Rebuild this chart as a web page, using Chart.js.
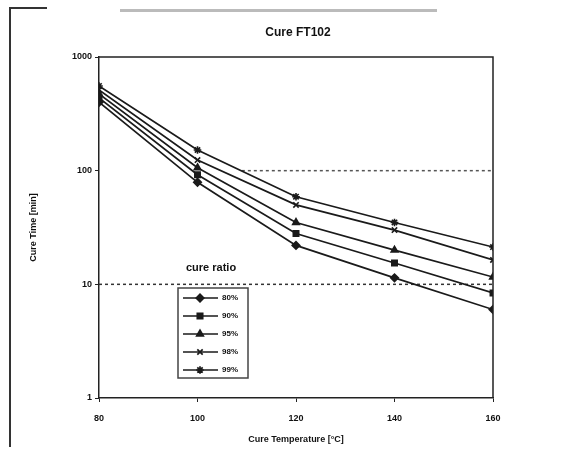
<!DOCTYPE html>
<html>
<head>
<meta charset="utf-8">
<script src="https://cdn.jsdelivr.net/npm/chart.js@4.4.1/dist/chart.umd.min.js"></script>
<style>
  html, body { margin: 0; padding: 0; background: #fff; }
  #wrap { position: relative; width: 581px; height: 451px; }
  #frameTop { position: absolute; left: 10px; top: 7px; width: 37px; height: 2px; background: #333; }
  #frameLeft { position: absolute; left: 9px; top: 7px; width: 2px; height: 440px; background: #333; }
  #topBar { position: absolute; left: 120px; top: 9px; width: 317px; height: 3px; background: #bbb; }
</style>
</head>
<body>
<div id="wrap">
  <canvas id="cureChart" width="581" height="451"></canvas>
  <div id="frameTop"></div>
  <div id="frameLeft"></div>
  <div id="topBar"></div>
</div>
<script>
// cure temperature [°C]
const temps = [80, 100, 120, 140, 160];

// cure time [min] per cure ratio
const cure80 = [400, 79, 22, 11.4, 6.0];
const cure90 = [437, 92, 28, 15.4, 8.4];
const cure95 = [473, 106, 35, 20, 11.6];
const cure98 = [513, 124, 50, 30, 16.4];
const cure99 = [556, 152, 59, 35, 21.3];

const seriesLabels = ['80%', '90%', '95%', '98%', '99%'];
const yTicks = [1, 10, 100, 1000];
const xTicks = [80, 100, 120, 140, 160];

// dotted reference lines (x, y)
const ref10 = [[80, 10], [160, 10]];
const ref100 = [[109, 100], [160, 100]];

const markerStyles = ['rectRot', 'rect', 'triangle', 'crossRot', 'star'];
const allSeries = [cure80, cure90, cure95, cure98, cure99];

const FONT = '"Liberation Sans", Arial, sans-serif';
const toPoints = arr => arr.map((v, i) => ({ x: temps[i], y: v }));

const datasets = allSeries.map((arr, i) => ({
    label: seriesLabels[i],
    data: toPoints(arr),
    borderColor: '#1a1a1a',
    backgroundColor: '#1a1a1a',
    borderWidth: 1.7,
    pointStyle: markerStyles[i],
    pointRadius: 3.8,
    pointBorderWidth: 1.6,
    fill: false,
    tension: 0
}));

datasets.push({
    label: 'ref10',
    data: ref10.map(p => ({ x: p[0], y: p[1] })),
    borderColor: '#333',
    borderWidth: 1.5,
    borderDash: [3, 3],
    pointRadius: 0,
    fill: false
});
datasets.push({
    label: 'ref100',
    data: ref100.map(p => ({ x: p[0], y: p[1] })),
    borderColor: '#555',
    borderWidth: 1.5,
    borderDash: [3, 3],
    pointRadius: 0,
    fill: false
});

// frame around the plot, title, legend box and "cure ratio" label
const extrasPlugin = {
    id: 'extras',
    afterDatasetsDraw(chart) {
        const ctx = chart.ctx;
        const a = chart.chartArea;
        ctx.save();
        ctx.strokeStyle = '#222';
        ctx.lineWidth = 1.5;
        ctx.beginPath();
        ctx.moveTo(a.left, a.top);
        ctx.lineTo(a.right, a.top);
        ctx.lineTo(a.right, a.bottom);
        ctx.stroke();

        // chart title centred over the plot
        ctx.fillStyle = '#111';
        ctx.font = 'bold 12px ' + FONT;
        ctx.textAlign = 'center';
        ctx.textBaseline = 'middle';
        ctx.fillText('Cure FT102', (a.left + a.right) / 2 + 2, 33);

        // "cure ratio" label
        ctx.font = 'bold 11px ' + FONT;
        ctx.textAlign = 'left';
        ctx.fillText('cure ratio', 186, 268);

        // legend box
        const bx = 178, by = 288, bw = 70, bh = 90;
        ctx.fillStyle = '#fff';
        ctx.fillRect(bx, by, bw, bh);
        ctx.strokeStyle = '#444';
        ctx.lineWidth = 1.5;
        ctx.strokeRect(bx, by, bw, bh);
        const rows = [298, 316, 334, 352, 370];
        ctx.font = 'bold 8px ' + FONT;
        seriesLabels.forEach((lab, i) => {
            const y = rows[i];
            ctx.strokeStyle = '#1a1a1a';
            ctx.lineWidth = 1.7;
            ctx.beginPath();
            ctx.moveTo(183, y);
            ctx.lineTo(218, y);
            ctx.stroke();
            ctx.fillStyle = '#1a1a1a';
            Chart.helpers.drawPoint(ctx, {
                pointStyle: markerStyles[i], radius: 3.8, rotation: 0, borderWidth: 1.6
            }, 200, y);
            ctx.fillStyle = '#111';
            ctx.fillText(lab, 222, y);
        });
        ctx.restore();
    }
};

const ctx = document.getElementById('cureChart').getContext('2d');
const cureChart = new Chart(ctx, {
    type: 'line',
    data: { datasets: datasets },
    plugins: [extrasPlugin],
    options: {
        responsive: false,
        animation: false,
        layout: { padding: { left: 28, right: 88, top: 57, bottom: 0 } },
        plugins: {
            legend: { display: false },
            tooltip: { enabled: false },
            title: { display: false }
        },
        scales: {
            x: {
                type: 'linear',
                min: 80,
                max: 160,
                afterBuildTicks: scale => { scale.ticks = xTicks.map(v => ({ value: v })); },
                afterFit: scale => { scale.height = 53; },
                grid: { display: true, drawOnChartArea: false, drawTicks: true, tickLength: 4, color: '#222' },
                border: { display: true, color: '#222', width: 1.5 },
                ticks: {
                    color: '#111',
                    padding: 11,
                    maxRotation: 0,
                    font: { family: FONT, size: 9, weight: 'bold' }
                },
                title: {
                    display: true,
                    text: 'Cure Temperature [°C]',
                    color: '#111',
                    padding: { top: 4, bottom: 6 },
                    font: { family: FONT, size: 9, weight: 'bold' }
                }
            },
            y: {
                type: 'logarithmic',
                min: 1,
                max: 1000,
                afterBuildTicks: scale => { scale.ticks = yTicks.map(v => ({ value: v })); },
                afterFit: scale => { scale.width = 71; },
                grid: { display: true, drawOnChartArea: false, drawTicks: true, tickLength: 4, color: '#222' },
                border: { display: true, color: '#222', width: 1.5 },
                ticks: {
                    color: '#111',
                    padding: 3,
                    callback: v => String(v),
                    font: { family: FONT, size: 9, weight: 'bold' }
                },
                title: {
                    display: true,
                    text: 'Cure Time [min]',
                    color: '#111',
                    padding: { top: 0, bottom: 0 },
                    font: { family: FONT, size: 9, weight: 'bold' }
                }
            }
        }
    }
});
</script>
</body>
</html>
